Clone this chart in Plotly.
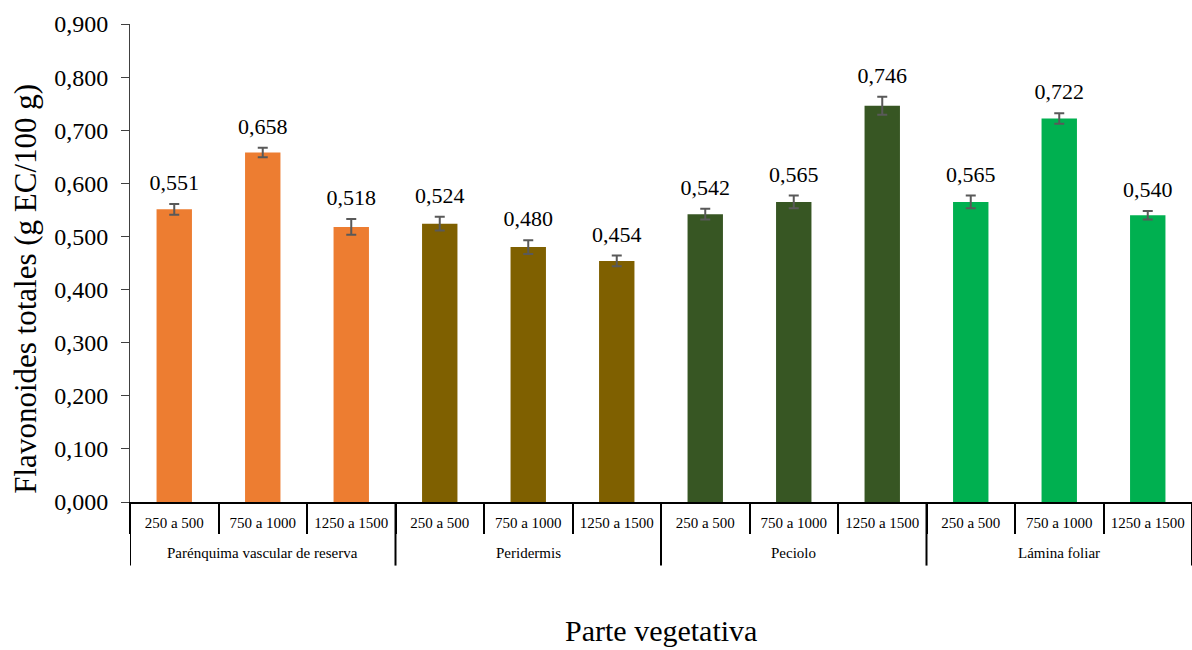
import plotly.graph_objects as go

# Flavonoid content by plant part and altitude range
groups = ["Parénquima vascular de reserva", "Peridermis", "Peciolo", "Lámina foliar"]
ranges = ["250 a 500", "750 a 1000", "1250 a 1500"]
values = [0.551, 0.658, 0.518, 0.524, 0.480, 0.454, 0.542, 0.565, 0.746, 0.565, 0.722, 0.540]
errors = [0.010, 0.009, 0.015, 0.013, 0.013, 0.010, 0.010, 0.012, 0.017, 0.012, 0.010, 0.008]
group_colors = ["#ED7D31", "#7F6000", "#375623", "#00B050"]
y_ticks = [0.0, 0.1, 0.2, 0.3, 0.4, 0.5, 0.6, 0.7, 0.8, 0.9]

n_sub = len(ranges)
pos = list(range(len(values)))
sub_labels = [r for _ in groups for r in ranges]
bar_colors = [c for c in group_colors for _ in ranges]
labels = [f"{v:.3f}".replace(".", ",") for v in values]
tops = [v + e for v, e in zip(values, errors)]

serif = "Liberation Serif"

fig = go.Figure()
fig.add_trace(go.Bar(
    x=pos,
    y=values,
    marker=dict(color=bar_colors, line=dict(width=0)),
    error_y=dict(type="data", array=errors, visible=True,
                 color="#595959", thickness=2, width=5),
    showlegend=False,
    hoverinfo="skip",
))
fig.add_trace(go.Scatter(
    x=pos,
    y=tops,
    mode="markers+text",
    text=labels,
    textposition="top center",
    marker=dict(size=12, opacity=0),
    textfont=dict(family=serif, size=22, color="#000000"),
    showlegend=False,
    hoverinfo="skip",
    cliponaxis=False,
))

# group divider lines and group names under the category axis
for gi, name in enumerate(groups):
    left = gi * n_sub - 0.5
    fig.add_shape(type="line", xref="x", yref="paper",
                  x0=left, x1=left, y0=0, y1=-0.133,
                  line=dict(color="#000000", width=2))
    fig.add_annotation(x=gi * n_sub + (n_sub - 1) / 2, xref="x",
                       y=-0.107, yref="paper", yanchor="middle",
                       text=name, showarrow=False,
                       font=dict(family=serif, size=15, color="#000000"))
last = len(values) - 0.5
fig.add_shape(type="line", xref="x", yref="paper",
              x0=last, x1=last, y0=0, y1=-0.133,
              line=dict(color="#000000", width=2))

# axis titles
fig.add_annotation(x=0.5, xref="paper", y=-0.268, yref="paper",
                   yanchor="middle", text="Parte vegetativa", showarrow=False,
                   font=dict(family=serif, size=30, color="#000000"))
fig.add_annotation(x=-0.098, xref="paper", y=0.446, yref="paper",
                   xanchor="center", yanchor="middle", textangle=-90,
                   text="Flavonoides totales (g EC/100 g)", showarrow=False,
                   font=dict(family=serif, size=31, color="#000000"))

fig.update_layout(
    width=1192, height=650,
    margin=dict(l=130, r=0, t=24, b=148),
    paper_bgcolor="white", plot_bgcolor="white",
    separators=", ",
    bargap=0.6,
    font=dict(family=serif, color="#000000"),
    xaxis=dict(
        range=[-0.5, len(values) - 0.5],
        tickvals=pos, ticktext=sub_labels,
        showline=True, linecolor="#000000", linewidth=2,
        ticks="outside", ticklen=6, tickcolor="rgba(0,0,0,0)",
        minor=dict(ticks="outside", tick0=0.5, dtick=1, ticklen=30,
                   tickcolor="#000000", tickwidth=2),
        tickfont=dict(family=serif, size=15, color="#000000"),
        showgrid=False, zeroline=False, fixedrange=True,
    ),
    yaxis=dict(
        range=[0, 0.9],
        tickvals=y_ticks,
        tickformat=".3f",
        showline=True, linecolor="#404040", linewidth=1,
        ticks="outside", ticklen=8, tickcolor="#404040",
        ticklabelstandoff=8,
        tickfont=dict(family=serif, size=24, color="#000000"),
        showgrid=False, zeroline=False,
    ),
)

fig.write_html("out.html")
